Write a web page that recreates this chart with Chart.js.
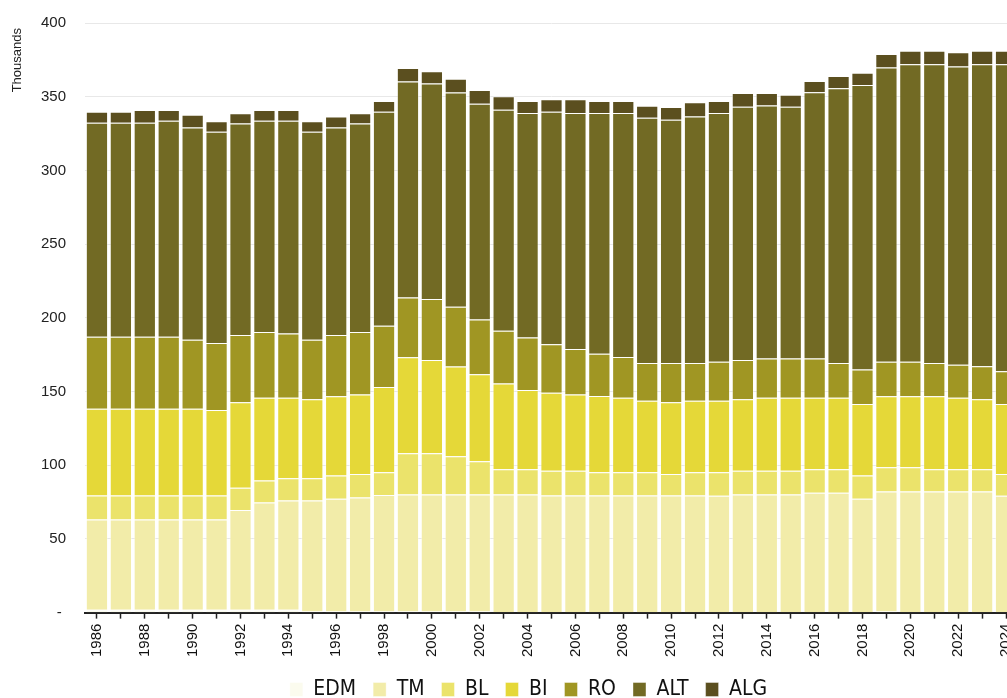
<!DOCTYPE html>
<html>
<head>
<meta charset="utf-8">
<script src="https://cdn.jsdelivr.net/npm/chart.js@4/dist/chart.umd.min.js"></script>
<style>
  html, body { margin: 0; padding: 0; background: #ffffff; overflow: hidden; width: 1007px; height: 698px; }
  #wrap { position: absolute; left: 0; top: 0; width: 1058px; height: 710px; }
</style>
</head>
<body>
<div id="wrap"><canvas id="c" width="1058" height="710"></canvas></div>
<script>
const years = ["1986","1987","1988","1989","1990","1991","1992","1993","1994","1995","1996","1997","1998","1999","2000","2001","2002","2003","2004","2005","2006","2007","2008","2009","2010","2011","2012","2013","2014","2015","2016","2017","2018","2019","2020","2021","2022","2023","2024"];

const EDM = [1.9,1.9,1.9,1.9,1.9,1.9,1.9,1.9,1.9,0.8,0.8,0.8,0.8,0.8,0.8,0.8,0.8,0.3,0.3,0.3,0.3,0.3,0.3,0.3,0.3,0.3,0.3,0.3,0.3,0.3,0.3,0.3,0.3,0.8,0.3,0.3,0.3,0.3,0.3];
const TM  = [61.2,61.2,61.2,61.2,61.2,61.2,67.8,72.8,74.2,75.3,76.4,77.3,79.0,79.4,79.4,79.4,79.4,79.9,79.9,79.2,79.2,79.2,79.2,79.2,79.2,79.1,79.0,79.9,79.9,79.9,81.0,81.0,76.9,81.4,81.9,81.9,81.9,81.9,79.0];
const BL  = [16.4,16.4,16.4,16.4,16.4,16.4,15.0,15.0,15.0,15.0,15.9,15.9,15.4,27.9,27.9,25.9,22.5,17.0,17.0,16.8,16.8,15.7,15.7,15.7,14.5,15.8,15.9,16.1,16.1,16.1,15.9,15.9,15.9,16.4,16.4,15.0,15.0,15.0,14.7];
const BI  = [58.8,58.8,58.8,58.8,58.8,57.9,58.0,56.1,54.7,53.6,53.7,53.9,57.9,65.2,63.2,60.9,59.1,58.2,53.9,52.8,51.6,51.8,50.6,48.6,48.7,48.6,48.6,48.4,49.5,49.5,48.6,48.6,48.4,48.2,48.2,49.6,48.6,47.5,47.5];
const RO  = [48.9,48.9,48.9,48.9,46.9,45.5,45.7,44.6,43.5,40.5,41.6,42.5,41.5,40.5,41.4,40.5,37.0,35.9,35.5,32.9,31.0,28.6,27.6,25.5,26.6,25.5,26.4,26.6,26.6,26.6,26.6,23.5,23.4,23.4,23.4,22.5,22.3,22.5,22.3];
const ALT = [145.1,145.1,145.1,146.5,143.9,143.3,143.5,143.3,144.4,141.0,140.7,141.5,145.2,146.5,146.2,145.3,146.5,149.9,152.3,157.8,160.0,163.3,165.5,166.4,165.0,167.2,168.7,171.9,171.7,170.8,180.6,186.4,193.1,199.6,201.9,202.8,202.4,204.9,208.3];
const ALG = [7.5,7.5,8.6,7.2,8.7,7.2,6.8,7.2,7.2,7.2,7.5,6.8,7.3,9.1,8.4,9.3,9.3,9.1,8.2,8.4,9.3,8.2,8.2,8.2,8.7,9.7,8.2,9.3,8.4,8.2,7.7,8.4,8.2,9.1,9.1,9.1,9.6,9.1,9.1];

const seriesNames = ["EDM","TM","BL","BI","RO","ALT","ALG"];
const seriesData = [EDM, TM, BL, BI, RO, ALT, ALG];
const seriesColors = ["#fbfbee","#f2eca9","#ebe36b","#e5d838","#a09623","#726a24","#5b4f1f"];

const yTicks = [0,50,100,150,200,250,300,350,400];
const yLabels = ["- ","50","100","150","200","250","300","350","400"];
const yTitle = "Thousands";

const datasets = seriesNames.map((name, i) => ({
  label: name,
  data: seriesData[i],
  backgroundColor: seriesColors[i],
  borderColor: "rgba(255,255,255,0.4)",
  borderWidth: 1,
  barPercentage: 0.93,
  categoryPercentage: 1.0
}));

const legendShift = {
  id: "legendShift",
  afterLayout(chart) {
    if (chart.legend) { chart.legend.left += 17; chart.legend.right += 17; }
  }
};

const axisTitle = {
  id: "axisTitle",
  afterDraw(chart) {
    const ctx = chart.ctx;
    ctx.save();
    ctx.translate(17, chart.chartArea.top + 5);
    ctx.rotate(-Math.PI / 2);
    ctx.font = "13px 'Liberation Sans', Arial, sans-serif";
    ctx.fillStyle = "#222222";
    ctx.textAlign = "right";
    ctx.textBaseline = "middle";
    ctx.fillText(yTitle, 0, 0);
    ctx.restore();
  }
};

new Chart(document.getElementById("c"), {
  type: "bar",
  data: { labels: years, datasets: datasets },
  plugins: [legendShift, axisTitle],
  options: {
    responsive: false,
    devicePixelRatio: 1,
    animation: false,
    layout: { padding: { top: 23, right: 40, left: 5, bottom: 0 } },
    plugins: {
      legend: {
        position: "bottom",
        labels: {
          boxWidth: 13,
          boxHeight: 14,
          padding: 17,
          color: "#111111",
          font: { family: "'DejaVu Sans Condensed', 'DejaVu Sans', sans-serif", size: 21 }
        }
      },
      tooltip: { enabled: false }
    },
    scales: {
      x: {
        stacked: true,
        grid: {
          display: true,
          drawOnChartArea: false,
          offset: false,
          tickLength: 6,
          tickColor: "#222222",
          tickWidth: 1.5
        },
        border: { display: true, color: "#222222", width: 2 },
        ticks: {
          autoSkip: false,
          minRotation: 90,
          maxRotation: 90,
          padding: 5,
          color: "#111111",
          font: { family: "'Liberation Sans', Arial, sans-serif", size: 15 },
          callback: function (v, i) { return i % 2 === 0 ? years[i] : ""; }
        }
      },
      y: {
        stacked: true,
        min: 0,
        max: 400,
        afterBuildTicks: function (axis) { axis.ticks = yTicks.map(v => ({ value: v })); },
        afterFit: function (axis) { axis.width = 80; },
        grid: { color: "#e8e8e8", lineWidth: 1, drawTicks: true, tickLength: 16, tickColor: "rgba(0,0,0,0)" },
        border: { display: false },
        ticks: {
          padding: 3,
          color: "#222222",
          font: { family: "'Liberation Sans', Arial, sans-serif", size: 15 },
          callback: function (v) { const k = yTicks.indexOf(v); return k >= 0 ? yLabels[k] : ""; }
        }
      }
    }
  }
});
</script>
</body>
</html>
